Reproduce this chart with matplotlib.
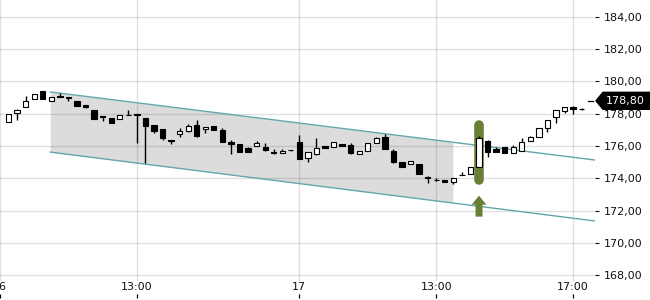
import matplotlib
matplotlib.use('Agg')
import matplotlib.pyplot as plt
import numpy as np
from matplotlib.patches import Polygon, FancyArrow

# 15 minute candles, first visible one is slot 1 of day 16
opens = [177.49, 178.05, 178.42, 178.90, 179.39, 178.80, 179.07, 179.02, 178.80, 178.54,
         178.20, 177.86, 177.72, 177.67, 177.93, 177.98, 177.72, 177.27, 177.03, 176.35,
         176.72, 176.95, 177.30, 177.04, 177.26, 176.99, 176.27, 176.10, 175.86, 176.00,
         175.96, 175.65, 175.55, 175.73, 176.27, 175.24, 175.50, 176.00, 175.96, 176.12,
         176.06, 175.50, 175.71, 176.20, 176.54, 175.71, 175.03, 174.86, 174.88, 174.08,
         173.90, 173.89, 173.75, 174.18, 174.24, 174.70, 176.31, 175.80, 175.96, 175.55,
         175.71, 176.33, 176.54, 177.10, 177.78, 178.19, 178.42, 178.29]
highs = [178.00, 178.30, 179.10, 179.25, 179.40, 179.05, 179.30, 179.03, 178.80, 178.54,
         178.21, 177.87, 177.72, 177.94, 178.23, 178.00, 177.73, 177.30, 177.03, 176.35,
         177.10, 177.36, 177.60, 177.20, 177.26, 177.10, 176.37, 176.10, 175.96, 176.33,
         176.16, 175.80, 175.80, 175.74, 176.70, 175.65, 176.48, 176.02, 176.23, 176.12,
         176.16, 175.71, 176.20, 176.58, 176.74, 175.80, 175.03, 175.07, 174.88, 174.12,
         174.03, 173.89, 174.00, 174.41, 174.68, 176.60, 176.40, 175.96, 175.96, 176.06,
         176.51, 176.64, 177.14, 177.61, 178.23, 178.44, 178.50, 178.35]
lows = [177.49, 177.60, 178.40, 178.90, 178.93, 178.79, 179.03, 178.80, 178.50, 178.35,
        177.70, 177.57, 177.45, 177.65, 177.93, 176.20, 174.93, 176.80, 176.40, 176.10,
        176.58, 176.89, 176.58, 176.80, 177.00, 176.23, 175.50, 175.65, 175.65, 176.00,
        175.72, 175.50, 175.55, 175.72, 175.20, 175.03, 175.45, 175.85, 175.96, 176.00,
        175.50, 175.50, 175.71, 176.20, 175.81, 174.97, 174.72, 174.86, 174.24, 173.72,
        173.80, 173.75, 173.64, 174.18, 174.24, 174.70, 175.30, 175.65, 175.55, 175.55,
        175.71, 176.33, 176.54, 176.89, 177.44, 178.03, 177.97, 178.22]
closes = [178.00, 178.25, 178.77, 179.24, 178.93, 179.04, 179.03, 179.00, 178.50, 178.44,
          177.70, 177.80, 177.45, 177.94, 177.95, 177.90, 177.26, 176.95, 176.51, 176.32,
          176.95, 177.24, 176.64, 177.20, 177.00, 176.23, 176.10, 175.65, 175.65, 176.16,
          175.75, 175.55, 175.69, 175.73, 175.22, 175.65, 175.86, 175.90, 176.23, 176.00,
          175.58, 175.71, 176.20, 176.48, 175.81, 175.03, 174.72, 175.07, 174.24, 174.04,
          173.88, 173.75, 174.00, 174.20, 174.68, 176.48, 175.65, 175.65, 175.55, 175.96,
          176.23, 176.54, 177.14, 177.61, 178.23, 178.44, 178.28, 178.29]
first_slot = 1

x_ticks = [0, 16, 35, 51, 67]
x_labels = ['16', '13:00', '17', '13:00', '17:00']
y_ticks = [168, 170, 172, 174, 176, 178, 180, 182, 184]

# trend channel
chan_x = [5.88, 69.56]
chan_upper = [179.35, 175.13]
chan_lower = [175.62, 171.35]
shade_x = [5.88, 52.95]
shade_upper = [179.35, 176.23]
shade_lower = [175.62, 172.50]

# breakout signal
signal_slot = 56
signal_top = 177.33
signal_bottom = 173.92
arrow_base = 171.62
arrow_tip = 172.92

last_price = 178.80

green = '#6a7f35'
teal = '#63a6ab'

fig = plt.figure(figsize=(6.5, 3.0), dpi=100)
ax = fig.add_axes([0.0, 19 / 300, 595 / 650, 281 / 300])

ax.set_xlim(0.418, 69.56)
ax.set_ylim(167.63, 185.05)

ax.fill_between(shade_x, shade_lower, shade_upper, color='#dcdcdc', lw=0, zorder=0.2)
ax.set_axisbelow(True)
ax.grid(True, color='black', alpha=0.12, lw=1)
ax.plot(chan_x, chan_upper, color=teal, lw=1, zorder=2)
ax.plot(chan_x, chan_lower, color=teal, lw=1, zorder=2)

ax.plot([signal_slot, signal_slot], [signal_bottom, signal_top], color=green,
        lw=6.9, solid_capstyle='round', zorder=2.5)
ax.add_patch(FancyArrow(signal_slot, arrow_base, 0, arrow_tip - arrow_base, width=0.81,
                        head_width=1.74, head_length=0.56, length_includes_head=True,
                        color=green, lw=0, zorder=2.5))

x = np.arange(first_slot, first_slot + len(opens))
o = np.array(opens)
c = np.array(closes)
up = c >= o
ax.vlines(x, lows, highs, color='black', lw=1, zorder=3)
body = np.maximum(np.abs(c - o), 0.01)
ax.bar(x, body, bottom=np.minimum(o, c), width=0.62,
       color=np.where(up, 'white', 'black'), edgecolor='black', lw=0.8, zorder=4)

for s in ax.spines.values():
    s.set_visible(False)

ax.yaxis.tick_right()
ax.set_yticks(y_ticks)
ax.set_yticklabels([f'{v:.2f}'.replace('.', ',') for v in y_ticks])
ax.tick_params(axis='y', length=3, width=0.8, pad=3.5, labelsize=8, colors='#111111')

ax.set_xticks(x_ticks)
ax.set_xticklabels(x_labels)
ax.tick_params(axis='x', length=0, pad=1, labelsize=8, colors='#111111')
ax.vlines(x_ticks, -0.047, -0.061, transform=ax.get_xaxis_transform(),
          color='black', lw=0.9, clip_on=False)

# last price tag
tr = ax.get_yaxis_transform()
h = 0.527
tag = Polygon([(1.0017, last_price), (1.0134, last_price + h), (1.12, last_price + h),
               (1.12, last_price - h), (1.0134, last_price - h)],
              closed=True, transform=tr, color='black', clip_on=False, zorder=5)
ax.add_patch(tag)
ax.plot([0.988, 0.997], [last_price, last_price], transform=tr, color='black',
        lw=0.9, clip_on=False)
ax.text(1.0513, last_price, f'{last_price:.2f}'.replace('.', ','), transform=tr,
        color='white', fontsize=8, ha='center', va='center', zorder=6)

fig.savefig('out.png', dpi=100)
